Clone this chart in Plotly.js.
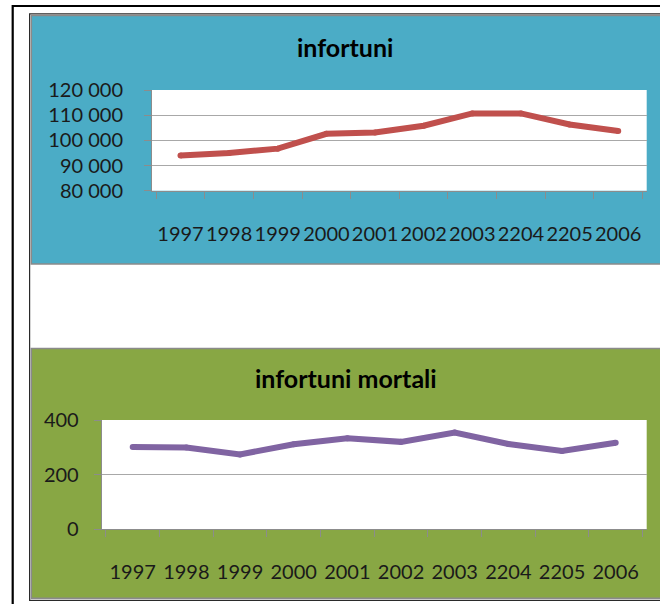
<!DOCTYPE html>
<html><head><meta charset="utf-8">
<script src="https://cdn.plot.ly/plotly-3.0.1.min.js"></script>
<style>html,body{margin:0;padding:0;background:#fff}#chart{width:660px;height:604px}</style>
</head><body><div id="chart"></div>
<script>
// ---- data ----
const years = ['1997','1998','1999','2000','2001','2002','2003','2204','2205','2006'];
const infortuni = [94000, 95000, 96700, 102600, 103100, 105800, 110700, 110700, 106300, 103700];
const infortuniMortali = [301, 299, 274, 311, 333, 320, 354, 312, 287, 317];
const titleTop = 'infortuni';
const titleBottom = 'infortuni mortali';
const yTicksTop = [80000, 90000, 100000, 110000, 120000];
const yTicksBottom = [0, 200, 400];

// ---- layout helpers (pixel -> paper) ----
const W = 660, H = 604;
const px = v => v / W;
const py = v => 1 - v / H;
const FONT = 'Lato, Carlito, "Open Sans", sans-serif';
const tickFont = {family: FONT, size: 20, color: '#1a1a1a'};
const axisGray = '#8c8c8c';

function xAxis(domain, anchor) {
  return {
    domain: domain, anchor: anchor, type: 'category',
    tickson: 'boundaries', ticks: 'outside', ticklen: 7, tickcolor: axisGray, tickwidth: 1,
    showline: true, linecolor: axisGray, linewidth: 1, showgrid: false,
    tickfont: tickFont, tickangle: 0, ticklabelstandoff: 25, fixedrange: true
  };
}
function yAxis(domain, anchor, range, vals, standoff) {
  return {
    domain: domain, anchor: anchor, range: range, tickvals: vals, tickformat: ',d',
    ticks: 'outside', ticklen: 7, tickcolor: axisGray, tickwidth: 1,
    showline: true, linecolor: axisGray, linewidth: 1,
    showgrid: true, gridcolor: '#a8a8a8', gridwidth: 1, zeroline: false,
    tickfont: tickFont, ticklabelstandoff: standoff, fixedrange: true
  };
}

const traces = [
  {x: years, y: infortuni, xaxis: 'x', yaxis: 'y', type: 'scatter', mode: 'lines+markers',
   line: {color: '#C0504D', width: 6}, marker: {color: '#C0504D', size: 6}, hoverinfo: 'skip'},
  {x: years, y: infortuniMortali, xaxis: 'x2', yaxis: 'y2', type: 'scatter', mode: 'lines+markers',
   line: {color: '#8064A2', width: 6}, marker: {color: '#8064A2', size: 6}, hoverinfo: 'skip'}
];

const layout = {
  width: W, height: H, margin: {l: 0, r: 0, t: 0, b: 0},
  paper_bgcolor: '#ffffff', plot_bgcolor: 'rgba(0,0,0,0)',
  showlegend: false, separators: ', ',
  xaxis: xAxis([px(152), px(646.7)], 'y'),
  yaxis: yAxis([py(190.7), py(90)], 'x', [80000, 120000], yTicksTop, 17),
  xaxis2: xAxis([px(101.7), px(646.7)], 'y2'),
  yaxis2: yAxis([py(529.3), py(420)], 'x2', [0, 400], yTicksBottom, 11),
  shapes: [
    // outer frame
    {type: 'rect', xref: 'paper', yref: 'paper', x0: px(12.7), x1: px(720), y0: py(6), y1: py(660),
     line: {color: '#000000', width: 2.2}, fillcolor: 'rgba(0,0,0,0)', layer: 'below'},
    // inner frame
    {type: 'rect', xref: 'paper', yref: 'paper', x0: px(29.6), x1: px(720), y0: py(13.8), y1: py(600.3),
     line: {color: '#2a2a2a', width: 1.2}, fillcolor: 'rgba(0,0,0,0)', layer: 'below'},
    // blue panel
    {type: 'rect', xref: 'paper', yref: 'paper', x0: px(31.3), x1: px(720), y0: py(15.4), y1: py(264),
     line: {color: '#8a8a8a', width: 1.6}, fillcolor: '#4BACC6', layer: 'below'},
    // green panel
    {type: 'rect', xref: 'paper', yref: 'paper', x0: px(31.3), x1: px(720), y0: py(348.5), y1: py(598.3),
     line: {color: '#8a8a8a', width: 1.6}, fillcolor: '#88A744', layer: 'below'},
    // plot backgrounds
    {type: 'rect', xref: 'x domain', yref: 'y domain', x0: 0, x1: 1, y0: 0, y1: 1,
     line: {width: 0}, fillcolor: '#ffffff', layer: 'below'},
    {type: 'rect', xref: 'x2 domain', yref: 'y2 domain', x0: 0, x1: 1, y0: 0, y1: 1,
     line: {width: 0}, fillcolor: '#ffffff', layer: 'below'}
  ],
  annotations: [
    {text: titleTop, xref: 'paper', yref: 'paper', x: px(345), y: py(47), xanchor: 'center', yanchor: 'middle',
     showarrow: false, font: {family: FONT, size: 25, color: '#000000', weight: 'bold'}},
    {text: titleBottom, xref: 'paper', yref: 'paper', x: px(346), y: py(378), xanchor: 'center', yanchor: 'middle',
     showarrow: false, font: {family: FONT, size: 25, color: '#000000', weight: 'bold'}}
  ]
};

Plotly.newPlot('chart', traces, layout, {staticPlot: true, displayModeBar: false});
</script>
</body></html>
